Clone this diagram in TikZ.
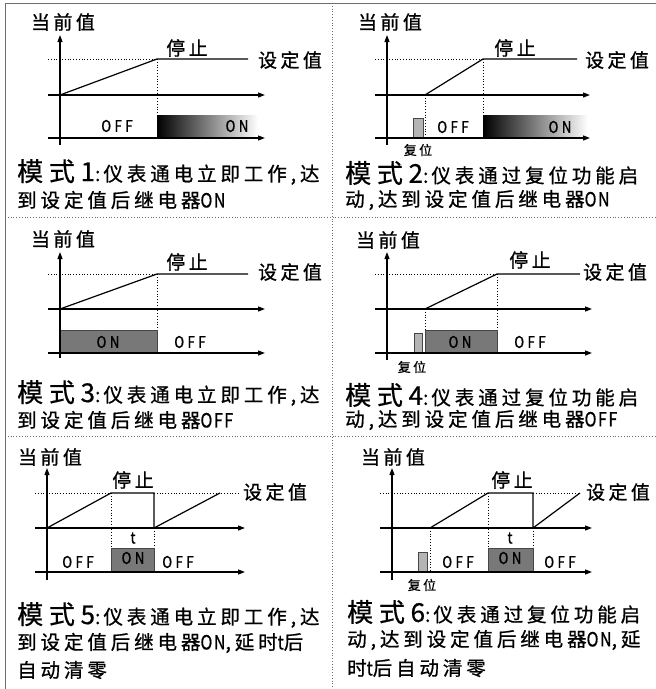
\documentclass[tikz,border=0pt]{standalone}
\usepackage{fontspec}
\setmainfont{Noto Sans CJK SC}
\newfontfamily\fa[LetterSpace=18,FakeBold=0.8]{Noto Sans CJK SC}
\newfontfamily\fb[LetterSpace=20,FakeBold=0.8]{Noto Sans CJK SC}
\newfontfamily\fbig[LetterSpace=22,FakeBold=0.6]{Noto Sans CJK SC}
\newfontfamily\fc[LetterSpace=22,FakeStretch=0.82,FakeBold=0.9]{Noto Sans CJK SC}
\newfontfamily\fd[LetterSpace=8,FakeStretch=0.82,FakeBold=0.8]{Noto Sans CJK SC}
\usetikzlibrary{arrows.meta}
\newcommand\lblF{\fa\fontsize{19}{22}\selectfont}
\newcommand\capF{\fb\fontsize{19.5}{22}\selectfont}
\newcommand\bigF{\fbig\fontsize{26}{28}\selectfont}
\newcommand\sigF{\fc\fontsize{16}{17}\selectfont}
\newcommand\smF{\fa\fontsize{13}{15}\selectfont}
\newcommand\latc[1]{{\fd\fontsize{19.5}{22}\selectfont #1}}
\newcommand\modeno[1]{{\bigF 模式#1}:\hspace{3pt}}
\definecolor{ondark}{RGB}{120,120,120}
\definecolor{rstgray}{RGB}{180,180,180}
\definecolor{edgegray}{RGB}{70,70,70}
\definecolor{framegray}{RGB}{110,110,110}
\tikzset{
 ax/.style={line width=1.2pt,-{Triangle[length=7pt,width=5pt]}},
 sg/.style={line width=1.2pt},
 dl/.style={line width=0.8pt,dotted},
 lbl/.style={inner sep=0pt,font=\lblF},
 captext/.style={inner sep=0pt,anchor=west,font=\capF},
 st/.style={inner sep=0pt,font=\sigF},
 sm/.style={inner sep=0pt,font=\smF},
 onbox/.style={fill=ondark,draw=edgegray,line width=0.8pt},
 rstbox/.style={fill=rstgray,draw=edgegray,line width=0.8pt},
 divider/.style={draw=framegray,line width=0.8pt,dotted},
}
\begin{document}
\begin{tikzpicture}[x=1pt,y=-1pt]
\useasboundingbox (0,0) rectangle (656,689);
\fill[white] (0,0) rectangle (656,689);
% frame and dividers
\draw[framegray,line width=1pt] (5,689) -- (5,3) -- (656,3);
\draw[divider] (332,3) -- (332,689);
\draw[divider] (5,217) -- (656,217);
\draw[divider] (5,436) -- (656,436);

% ---------- Panel 1 ----------
\node[lbl] (p1cur) at (63,22) {当前值};
\draw[dl] (48,59) -- (157,59);
\draw[dl] (157,59) -- (157,115);
\shade[left color=black,right color=white] (157,115) rectangle (258,138);
\draw[ax] (60,145) -- (60,35);
\draw[ax] (48,95) -- (265,95);
\draw[ax] (48,138) -- (265,138);
\draw[sg] (60,95) -- (157,59) -- (248,59);
\node[lbl] (p1stop) at (187,48) {停止};
\node[lbl] (p1set) at (290,60) {设定值};
\node[st] (p1off) at (117,126) {OFF};
\node[st] (p1on) at (237,126) {ON};
\node[captext] (p1c1) at (17,172) {\modeno{1}仪表通电立即工作,达};
\node[captext] (p1c2) at (17,200) {到设定值后继电器\latc{ON}};

% ---------- Panel 2 ----------
\node[lbl] (p2cur) at (390,22) {当前值};
\draw[dl] (375,59) -- (483,59);
\draw[dl] (483,59) -- (483,115);
\draw[dl] (425,95) -- (425,138);
\shade[left color=black,right color=white] (483,115) rectangle (588,138);
\draw[rstbox] (413,118) rectangle (423,138);
\draw[ax] (387,145) -- (387,35);
\draw[ax] (375,95) -- (590,95);
\draw[ax] (375,138) -- (590,138);
\draw[sg] (425,95) -- (483,59) -- (577,59);
\node[lbl] (p2stop) at (515,48) {停止};
\node[lbl] (p2set) at (617,60) {设定值};
\node[st] (p2off) at (453,127) {OFF};
\node[st] (p2on) at (560,127) {ON};
\node[sm] (p2rst) at (418,150) {复位};
\node[captext] (p2c1) at (345,173) {\modeno{2}仪表通过复位功能启};
\node[captext] (p2c2) at (345,200) {动,达到设定值后继电器\latc{ON}};

% ---------- Panel 3 ----------
\node[lbl] (p3cur) at (63,239) {当前值};
\draw[dl] (48,274) -- (157,274);
\draw[dl] (157,274) -- (157,353);
\draw[onbox] (60,330) rectangle (157,353);
\draw[ax] (60,358) -- (60,252);
\draw[ax] (48,309) -- (265,309);
\draw[ax] (48,353) -- (265,353);
\draw[sg] (60,309) -- (157,274) -- (248,274);
\node[lbl] (p3stop) at (187,262) {停止};
\node[lbl] (p3set) at (290,272) {设定值};
\node[st] (p3on) at (108,342) {ON};
\node[st] (p3off) at (190,342) {OFF};
\node[captext] (p3c1) at (17,393) {\modeno{3}仪表通电立即工作,达};
\node[captext] (p3c2) at (17,420) {到设定值后继电器\latc{OFF}};

% ---------- Panel 4 ----------
\node[lbl] (p4cur) at (388,240) {当前值};
\draw[dl] (375,274) -- (497,274);
\draw[dl] (497,274) -- (497,353);
\draw[dl] (425,309) -- (425,330);
\draw[onbox] (425,330) rectangle (497,353);
\draw[rstbox] (414,333) rectangle (422,353);
\draw[ax] (387,360) -- (387,252);
\draw[ax] (375,309) -- (592,309);
\draw[ax] (375,353) -- (592,353);
\draw[sg] (425,309) -- (497,274) -- (580,274);
\node[lbl] (p4stop) at (530,260) {停止};
\node[lbl] (p4set) at (615,272) {设定值};
\node[st] (p4on) at (460,342) {ON};
\node[st] (p4off) at (530,342) {OFF};
\node[sm] (p4rst) at (412,367) {复位};
\node[captext] (p4c1) at (345,395) {\modeno{4}仪表通过复位功能启};
\node[captext] (p4c2) at (345,420) {动,达到设定值后继电器\latc{OFF}};

% ---------- Panel 5 ----------
\node[lbl] (p5cur) at (50,457) {当前值};
\draw[dl] (35,493) -- (111,493);
\draw[dl] (154,493) -- (240,493);
\draw[dl] (111,493) -- (111,548);
\draw[dl] (154,528) -- (154,548);
\draw[onbox] (111,548) rectangle (154,572);
\draw[ax] (47,580) -- (47,468);
\draw[ax] (35,528) -- (245,528);
\draw[ax] (35,572) -- (245,572);
\draw[sg] (47,528) -- (111,493) -- (154,493) -- (154,528) -- (220,493);
\node[lbl] (p5stop) at (133,480) {停止};
\node[lbl] (p5set) at (275,492) {设定值};
\node[st] (p5t) at (133,538) {t};
\node[st] (p5on) at (133,558) {ON};
\node[st] (p5off1) at (78,562) {OFF};
\node[st] (p5off2) at (178,562) {OFF};
\node[captext] (p5c1) at (17,615) {\modeno{5}仪表通电立即工作,达};
\node[captext] (p5c2) at (17,643) {到设定值后继电器\latc{ON},延时\latc{t}后};
\node[captext] (p5c3) at (17,670) {自动清零};

% ---------- Panel 6 ----------
\node[lbl] (p6cur) at (393,457) {当前值};
\draw[dl] (380,493) -- (488,493);
\draw[dl] (533,493) -- (580,493);
\draw[dl] (430,528) -- (430,572);
\draw[dl] (488,493) -- (488,548);
\draw[dl] (533,528) -- (533,548);
\draw[onbox] (488,548) rectangle (533,572);
\draw[rstbox] (418,552) rectangle (427,572);
\draw[ax] (392,580) -- (392,468);
\draw[ax] (380,528) -- (592,528);
\draw[ax] (380,572) -- (592,572);
\draw[sg] (430,528) -- (488,493) -- (533,493) -- (533,528) -- (580,493);
\node[lbl] (p6stop) at (512,480) {停止};
\node[lbl] (p6set) at (618,492) {设定值};
\node[st] (p6t) at (510,538) {t};
\node[st] (p6on) at (510,558) {ON};
\node[st] (p6off1) at (458,562) {OFF};
\node[st] (p6off2) at (560,562) {OFF};
\node[sm] (p6rst) at (422,585) {复位};
\node[captext] (p6c1) at (347,612) {\modeno{6}仪表通过复位功能启};
\node[captext] (p6c2) at (347,640) {动,达到设定值后继电器\latc{ON},延};
\node[captext] (p6c3) at (347,668) {时\latc{t}后自动清零};
\end{tikzpicture}
\end{document}
